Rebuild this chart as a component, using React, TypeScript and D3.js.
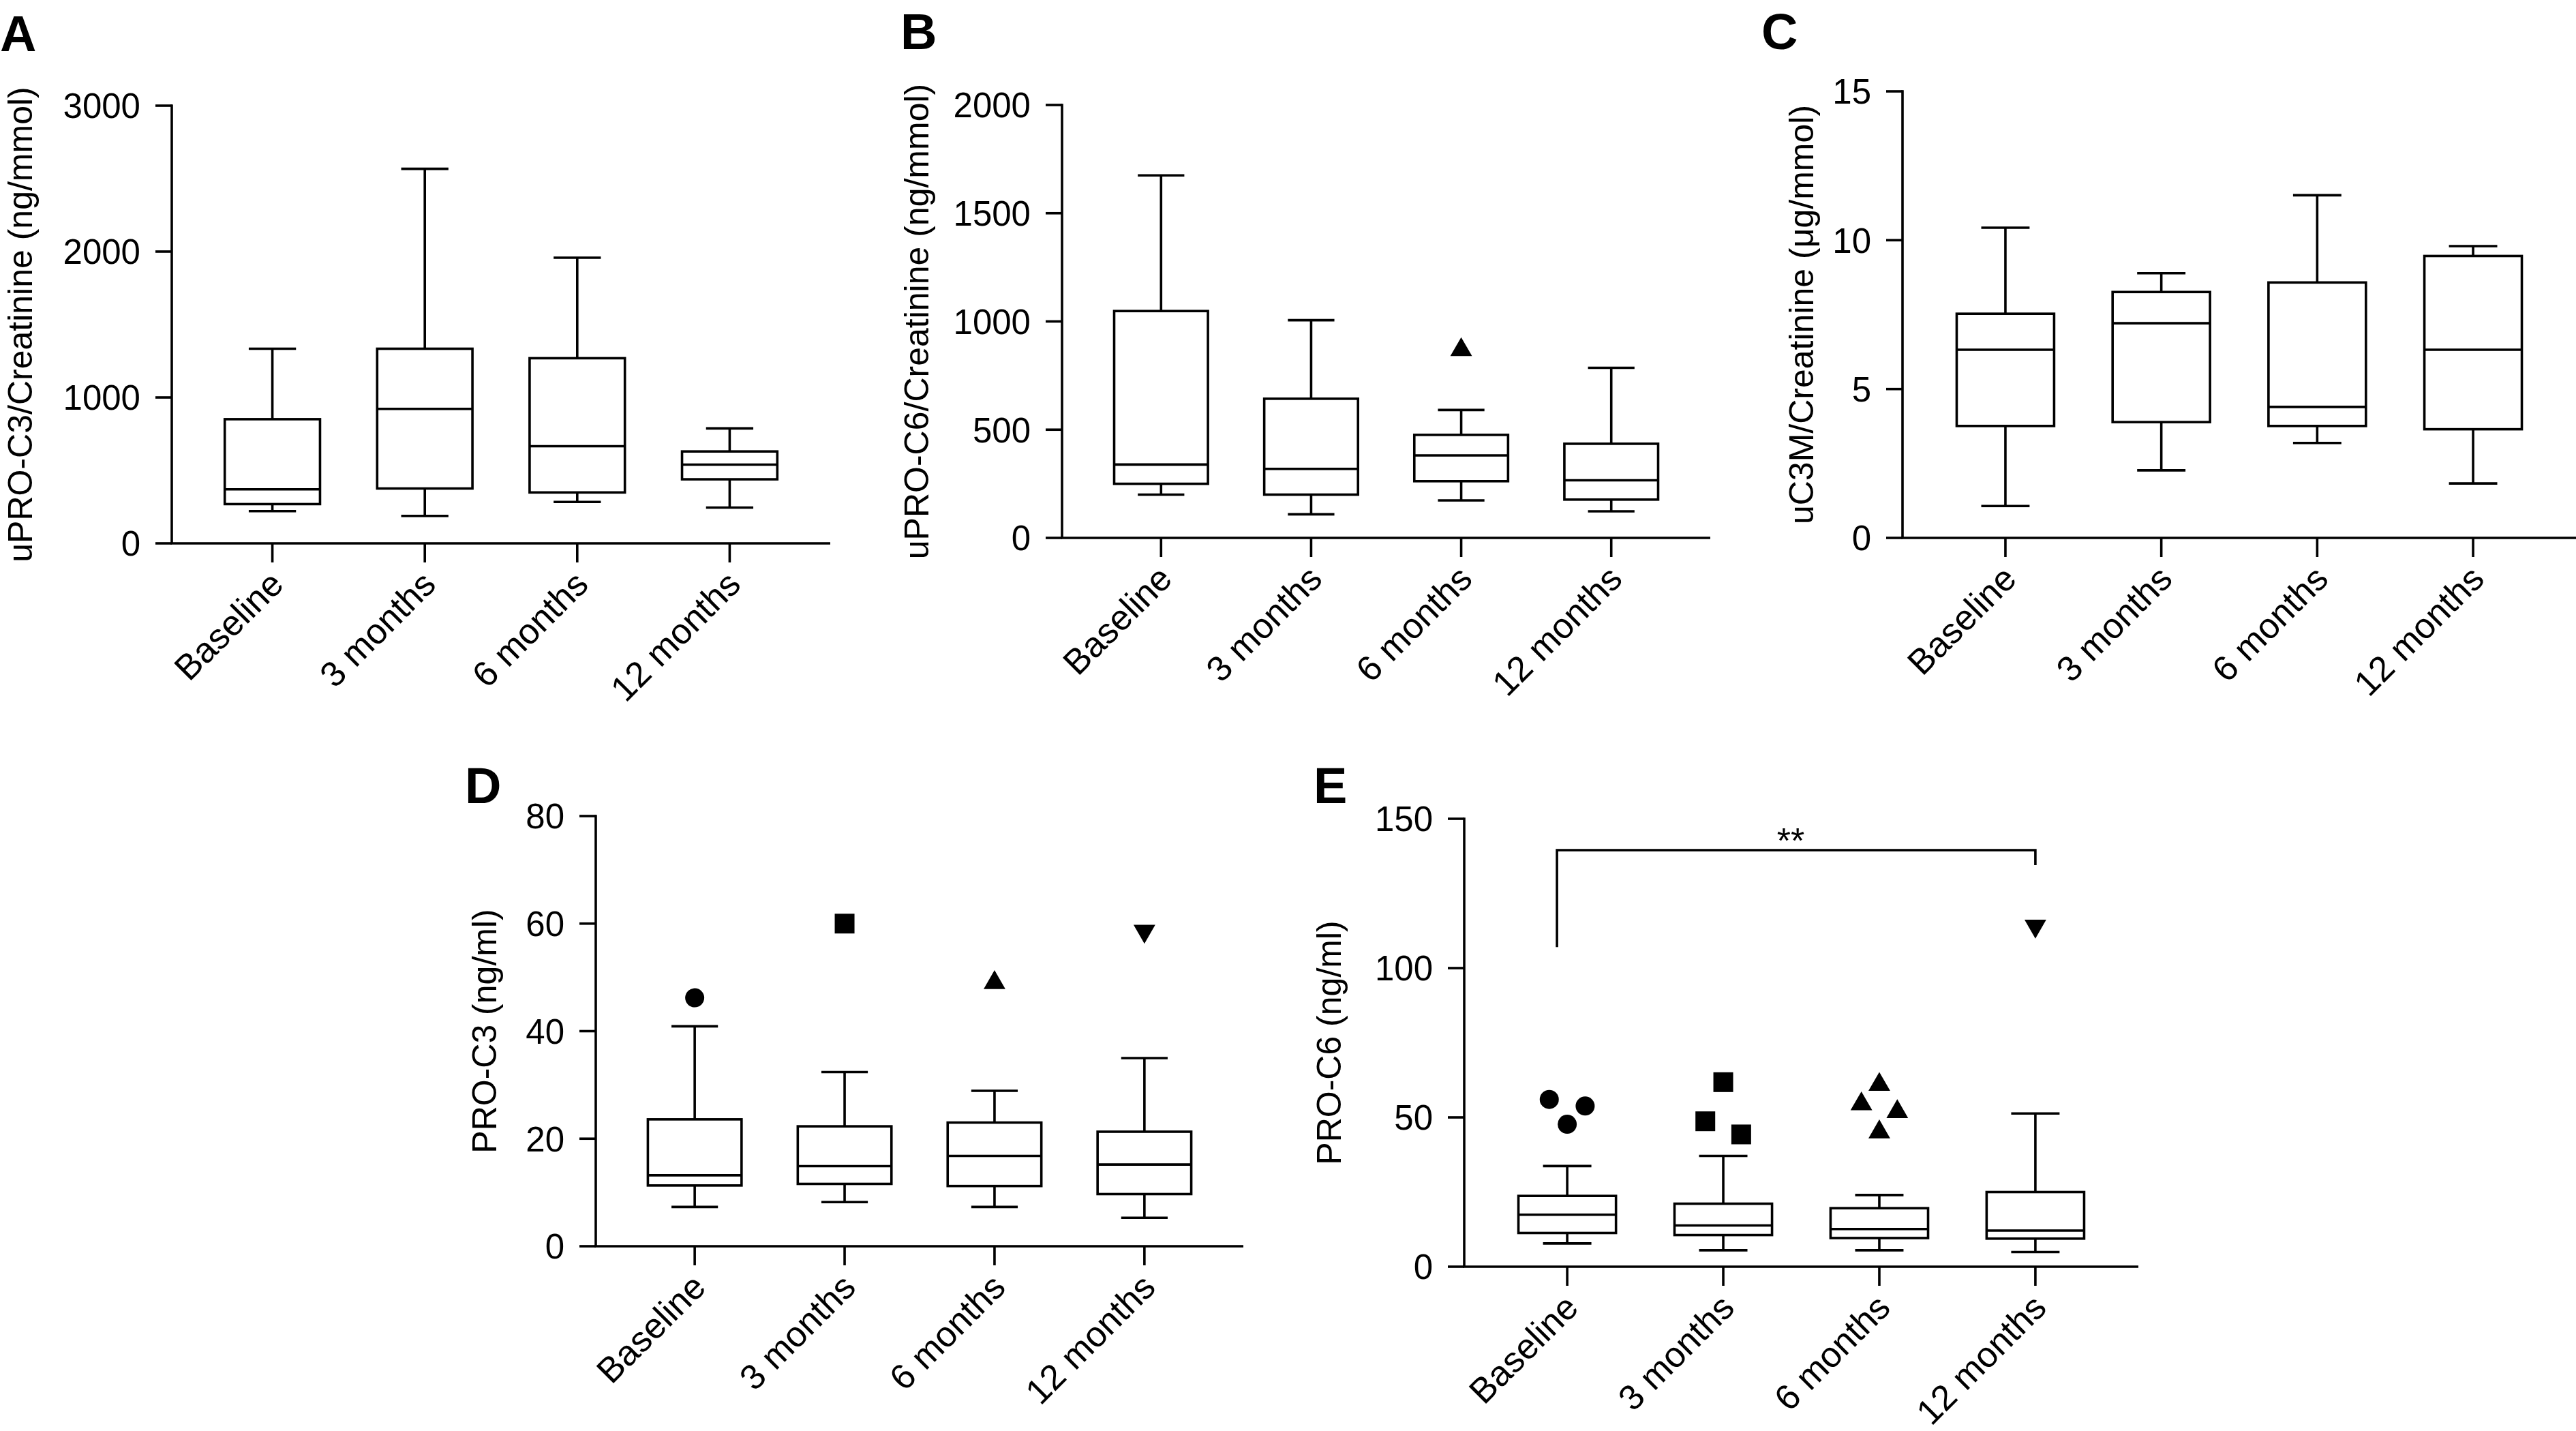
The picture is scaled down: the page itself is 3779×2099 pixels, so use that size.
import * as d3 from "d3";

const categories = ["Baseline", "3 months", "6 months", "12 months"];

// each row: [whisker low, q1, median, q3, whisker high]
const uProC3Stats = [
  [221, 269, 370, 851, 1334],
  [188, 376, 922, 1334, 2567],
  [284, 349, 666, 1269, 1958],
  [245, 439, 540, 630, 788],
];
const uProC3Outliers = [[], [], [], []];
const uProC3Ticks = [0, 1000, 2000, 3000];

const uProC6Stats = [
  [200, 250, 339, 1048, 1675],
  [109, 200, 319, 643, 1006],
  [173, 262, 381, 476, 591],
  [123, 177, 266, 435, 786],
];
const uProC6Outliers = [[], [], [869], []];
const uProC6Ticks = [0, 500, 1000, 1500, 2000];

const uC3MStats = [
  [1.07, 3.76, 6.32, 7.53, 10.42],
  [2.27, 3.89, 7.21, 8.26, 8.89],
  [3.19, 3.76, 4.4, 8.58, 11.51],
  [1.83, 3.65, 6.32, 9.47, 9.8],
];
const uC3MOutliers = [[], [], [], []];
const uC3MTicks = [0, 5, 10, 15];

const proC3Stats = [
  [7.3, 11.3, 13.2, 23.6, 40.9],
  [8.2, 11.6, 14.9, 22.3, 32.4],
  [7.3, 11.2, 16.8, 23.0, 28.9],
  [5.3, 9.7, 15.2, 21.3, 35.0],
];
const proC3Outliers = [[46.2], [60.0], [49.0], [58.6]];
const proC3Ticks = [0, 20, 40, 60, 80];

const proC6Stats = [
  [7.8, 11.3, 17.4, 23.7, 33.7],
  [5.5, 10.6, 13.8, 21.1, 37.1],
  [5.5, 9.6, 12.6, 19.6, 24.0],
  [4.9, 9.4, 12.1, 25.0, 51.3],
];
const proC6Outliers = [
  [56.0, 53.8, 47.7],
  [61.8, 48.7, 44.3],
  [61.0, 54.5, 51.9, 45.1],
  [114.1],
];
const proC6Ticks = [0, 50, 100, 150];
// Baseline vs 12 months
const proC6Bracket = {from: "Baseline", to: "12 months", top: 139.5, leftEnd: 107, rightEnd: 134.5, label: "**"};

const FONT = "'Liberation Sans', Arial, Helvetica, sans-serif";
const LW = 3.6;

// marker per time point, like Prism's default symbols
const symbolFor = [
  d3.symbol().type(d3.symbolCircle).size(Math.PI * 14 * 14),
  d3.symbol().type(d3.symbolSquare).size(29 * 29),
  d3.symbol().type(d3.symbolTriangle).size(440),
  d3.symbol().type(d3.symbolTriangle).size(440),
];

// spread points that sit too close vertically side by side
function spread(vals: number[], y: any, gap: number) {
  const sorted = [...vals].sort((a, b) => b - a);
  const groups: number[][] = [];
  sorted.forEach((v) => {
    const g = groups[groups.length - 1];
    if(g && Math.abs(y(g[g.length - 1]) - y(v)) < 20) g.push(v);
    else groups.push([v]);
  });
  const out: {v: number, dx: number}[] = [];
  groups.forEach((g) => g.forEach((v, i) => out.push({v, dx: (i - (g.length - 1) / 2) * gap})));
  return out;
}

function BoxPanel(props: any) {
  const {letter, letterX, letterY, label, labelX, axisX, xEnd, yTop, yBottom, ticks, stats, outliers, bracket} = props;
  const y = d3.scaleLinear().domain([ticks[0], ticks[ticks.length - 1]]).range([yBottom, yTop]);
  const x = d3.scalePoint().domain(categories).range([axisX, xEnd]).padding(0.66);
  const step = x.step();
  const boxW = step * 0.625;
  const capW = step * 0.31;

  return (
    <g>
      <text x={letterX} y={letterY} fontSize={74} fontWeight="bold" fontFamily={FONT}>{letter}</text>

      {/* y axis */}
      <line x1={axisX} x2={axisX} y1={yBottom} y2={yTop - LW / 2} stroke="#000" strokeWidth={LW} />
      {ticks.map((t: number) => (
        <g key={t}>
          <line x1={axisX - 24} x2={axisX} y1={y(t)} y2={y(t)} stroke="#000" strokeWidth={LW} />
          <text x={axisX - 46} y={y(t)} dy="0.36em" textAnchor="end" fontSize={51} fontFamily={FONT}>{t}</text>
        </g>
      ))}
      <text
        transform={`translate(${labelX}, ${(yTop + yBottom) / 2}) rotate(-90)`}
        textAnchor="middle"
        fontSize={50}
        fontFamily={FONT}
      >{label}</text>

      {/* x axis */}
      <line x1={axisX - LW / 2} x2={xEnd} y1={yBottom} y2={yBottom} stroke="#000" strokeWidth={LW} />
      {categories.map((c) => (
        <g key={c}>
          <line x1={x(c)} x2={x(c)} y1={yBottom} y2={yBottom + 28} stroke="#000" strokeWidth={LW} />
          <text
            transform={`translate(${x(c)! + 19}, ${yBottom + 63}) rotate(-45)`}
            textAnchor="end"
            fontSize={52}
            fontFamily={FONT}
          >{c}</text>
        </g>
      ))}

      {/* boxes */}
      {stats.map((s: number[], i: number) => {
        const cx = x(categories[i])!;
        const [lo, q1, med, q3, hi] = s;
        return (
          <g key={i} stroke="#000" strokeWidth={LW} fill="none">
            <line x1={cx} x2={cx} y1={y(hi)} y2={y(q3)} />
            <line x1={cx} x2={cx} y1={y(q1)} y2={y(lo)} />
            <line x1={cx - capW / 2} x2={cx + capW / 2} y1={y(hi)} y2={y(hi)} />
            <line x1={cx - capW / 2} x2={cx + capW / 2} y1={y(lo)} y2={y(lo)} />
            <rect x={cx - boxW / 2} y={y(q3)} width={boxW} height={y(q1) - y(q3)} fill="#fff" />
            <line x1={cx - boxW / 2} x2={cx + boxW / 2} y1={y(med)} y2={y(med)} />
          </g>
        );
      })}

      {/* outliers */}
      {outliers.map((vals: number[], i: number) =>
        spread(vals, y, step * 0.23).map((p, j) => (
          <path
            key={`${i}-${j}`}
            d={symbolFor[i]()!}
            transform={`translate(${x(categories[i])! + p.dx}, ${y(p.v)})${i === 3 ? " rotate(180)" : ""}`}
            fill="#000"
          />
        ))
      )}

      {bracket && (
        <g>
          <path
            d={`M${x(bracket.from)! - 15},${y(bracket.leftEnd)}V${y(bracket.top)}H${x(bracket.to)}V${y(bracket.rightEnd)}`}
            fill="none"
            stroke="#000"
            strokeWidth={LW}
          />
          <text
            x={(x(bracket.from)! - 15 + x(bracket.to)!) / 2 - 8}
            y={y(bracket.top) + 4}
            textAnchor="middle"
            fontSize={52}
            fontFamily={FONT}
          >{bracket.label}</text>
        </g>
      )}
    </g>
  );
}

export default function App() {
  return (
    <svg
      width={3779}
      height={2099}
      viewBox="0 0 3779 2099"
      style={{position: "absolute", left: 0, top: 0, background: "#fff"}}
    >
      <BoxPanel letter="A" letterX={0} letterY={75} label="uPRO-C3/Creatinine (ng/mmol)" labelX={47}
        axisX={252} xEnd={1218} yTop={155} yBottom={797}
        ticks={uProC3Ticks} stats={uProC3Stats} outliers={uProC3Outliers} />
      <BoxPanel letter="B" letterX={1321} letterY={72} label="uPRO-C6/Creatinine (ng/mmol)" labelX={1362}
        axisX={1558} xEnd={2509} yTop={154} yBottom={789}
        ticks={uProC6Ticks} stats={uProC6Stats} outliers={uProC6Outliers} />
      <BoxPanel letter="C" letterX={2584} letterY={72} label="uC3M/Creatinine (μg/mmol)" labelX={2660}
        axisX={2791} xEnd={3779} yTop={134} yBottom={789}
        ticks={uC3MTicks} stats={uC3MStats} outliers={uC3MOutliers} />
      <BoxPanel letter="D" letterX={682} letterY={1178} label="PRO-C3 (ng/ml)" labelX={728}
        axisX={874} xEnd={1824} yTop={1197} yBottom={1828}
        ticks={proC3Ticks} stats={proC3Stats} outliers={proC3Outliers} />
      <BoxPanel letter="E" letterX={1927} letterY={1178} label="PRO-C6 (ng/ml)" labelX={1967}
        axisX={2148} xEnd={3137} yTop={1201} yBottom={1858}
        ticks={proC6Ticks} stats={proC6Stats} outliers={proC6Outliers} bracket={proC6Bracket} />
    </svg>
  );
}
